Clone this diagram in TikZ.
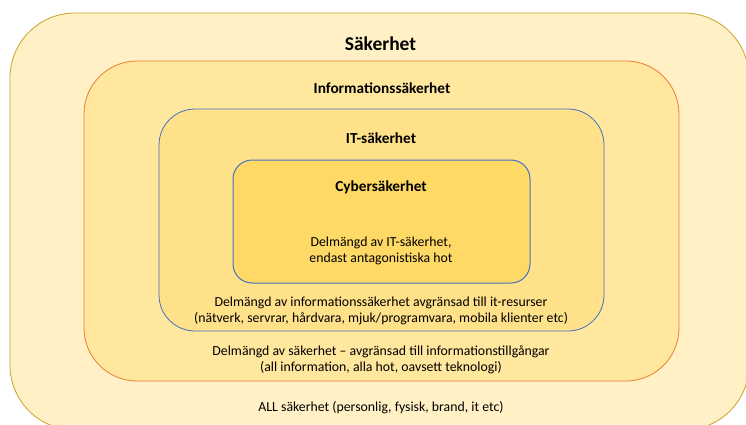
\documentclass[tikz,border=0pt]{standalone}
\usepackage{fontspec}
\setmainfont{Carlito}
\usepackage{xcolor}
\usepackage{tikz}
\usetikzlibrary{positioning}
\definecolor{allline}{HTML}{C9A227}
\definecolor{allfill}{HTML}{FFF0C6}
\definecolor{infoline}{HTML}{ED7D31}
\definecolor{infofill}{HTML}{FFE79E}
\definecolor{itline}{HTML}{4472C4}
\definecolor{itfill}{HTML}{FFE18A}
\definecolor{cyberfill}{HTML}{FFD966}
\tikzset{%
      setbox/.style = { line width=0.8pt },
  titlelabel/.style = { font=\bfseries\fontsize{19.5}{24}\selectfont, inner sep=0pt },
   headlabel/.style = { font=\bfseries\fontsize{15.3}{18}\selectfont, inner sep=0pt },
   textlabel/.style = { font=\fontsize{13.8}{16.5}\selectfont, align=center, inner sep=0pt }
}
\begin{document}
\begin{tikzpicture}[x=1pt,y=-1pt]
\useasboundingbox (0,0) rectangle (746,425);
\clip (0,0) rectangle (746,425);
\fill[white] (0,0) rectangle (746,425);
% nested sets
\draw[setbox,draw=allline,fill=allfill,rounded corners=65pt] (10,13) rectangle (749,430);
\draw[setbox,draw=infoline,fill=infofill,rounded corners=53pt] (84,61) rectangle (679,381);
\draw[setbox,draw=itline,fill=itfill,rounded corners=36pt] (159,109) rectangle (604,331);
\draw[setbox,line width=1pt,draw=itline,fill=cyberfill,rounded corners=19pt] (233,160) rectangle (530,283);
% headings
\node[titlelabel] (saker) at (380.5,44) {Säkerhet};
\node[headlabel] (info) at (382,88) {Informationssäkerhet};
\node[headlabel] (it) at (381,138) {IT-säkerhet};
\node[headlabel] (cyber) at (381,187) {Cybersäkerhet};
% descriptions
\node[textlabel] (cyberdesc) at (381,251) {Delmängd av IT-säkerhet,\\endast antagonistiska hot};
\node[textlabel] (itdesc) at (381,311) {Delmängd av informationssäkerhet avgränsad till it-resurser\\(nätverk, servrar, hårdvara, mjuk/programvara, mobila klienter etc)};
\node[textlabel] (infodesc) at (381,360) {Delmängd av säkerhet – avgränsad till informationstillgångar\\(all information, alla hot, oavsett teknologi)};
\node[textlabel] (sakerdesc) at (381,408) {ALL säkerhet (personlig, fysisk, brand, it etc)};
\end{tikzpicture}
\end{document}
